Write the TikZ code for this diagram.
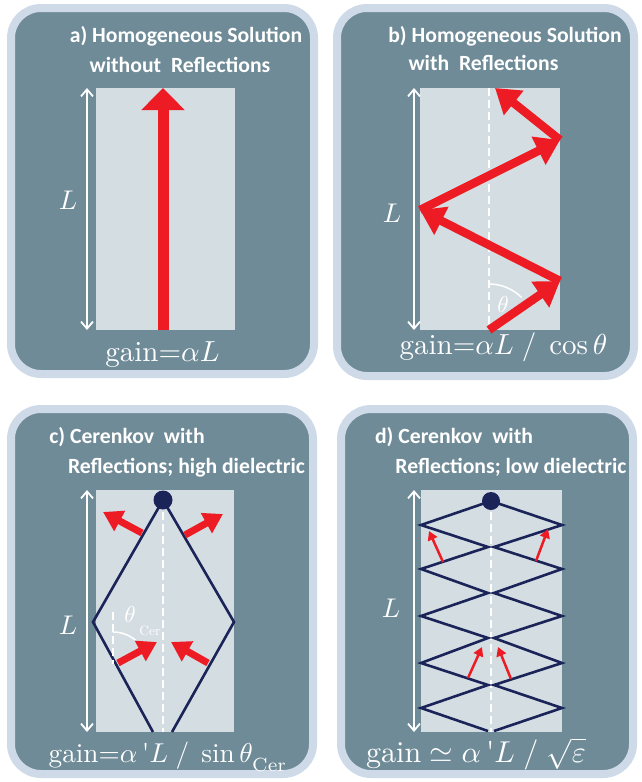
\documentclass[tikz,border=0pt]{standalone}
\usepackage{fontspec}
\newfontfamily\carl{Carlito}
\usetikzlibrary{arrows.meta}
\definecolor{bord}{HTML}{CFDAE8}
\definecolor{panel}{HTML}{6E8B97}
\definecolor{innerc}{HTML}{D4DDE2}
\definecolor{arrred}{HTML}{ED1C24}
\definecolor{navy}{HTML}{1B2459}
\begin{document}
\begin{tikzpicture}[x=1pt,y=-1pt,
  panelbox/.style={draw=bord,line width=8pt,fill=panel,rounded corners=30pt},
  innerbox/.style={fill=innerc},
  title/.style={text=white,font=\carl\bfseries\fontsize{21.7}{24}\selectfont,anchor=base,inner sep=0pt},
  mathlbl/.style={text=white,scale=2.9,anchor=base,inner sep=0pt},
  symlbl/.style={text=white,scale=2.7,inner sep=0pt},
  dimarrow/.style={white,line width=1.8pt,{Straight Barb[length=7pt,width=12pt]}-{Straight Barb[length=7pt,width=12pt]}},
  dashln/.style={white,line width=2pt,dash pattern=on 8pt off 4pt},
  redA/.style={draw=arrred,line width=11pt,-{Triangle[length=22pt,width=42pt]}},
  redB/.style={draw=arrred,line width=8.5pt,-{Triangle[length=24pt,width=30pt]}},
  redC/.style={draw=arrred,line width=7pt,-{Triangle[length=19pt,width=22pt]}},
  redD/.style={draw=arrred,line width=2.5pt,-{Triangle[length=9pt,width=10pt]}},
  navyln/.style={draw=navy,line width=2.6pt,line join=miter}]
\useasboundingbox (0,0) rectangle (641,782);

% ---------- panel a ----------
\draw[panelbox] (11,8) rectangle (314,374);
\fill[innerbox] (96,88) rectangle (235,330);
\node[title] (ta1) at (186,42) {a) Homogeneous Solution};
\node[title] (ta2) at (180,72) {without\ \ Reflections};
\coordinate (aT) at (87,88); \coordinate (aB) at (87,330);
\draw[dimarrow] (aT) -- (aB);
\node[symlbl] (aL) at (68,200) {$L$};
\coordinate (a0) at (163,330); \coordinate (a1) at (163,88);
\draw[redA] (a0) -- (a1);
\node[mathlbl] (ga) at (162.5,361) {$\mathrm{gain}{=}\alpha L$};

% ---------- panel b ----------
\draw[panelbox] (337,8) rectangle (634,376);
\fill[innerbox] (420,88) rectangle (560,330);
\node[title] (tb1) at (505,42) {b) Homogeneous Solution};
\node[title] (tb2) at (483.5,70) {with\ \ Reflections};
\coordinate (bT) at (414,88); \coordinate (bB) at (414,330);
\draw[dimarrow] (bT) -- (bB);
\node[symlbl] (bL) at (392,213) {$L$};
\coordinate (bd0) at (489,88); \coordinate (bd1) at (489,330);
\draw[dashln] (bd0) -- (bd1);
\draw[white,line width=1.5pt] (489,284) arc[start angle=90,end angle=45,radius=46pt];
\node[text=white,scale=2.3,inner sep=0pt] (bth) at (503,305) {$\theta$};
\coordinate (p0) at (489,330);
\coordinate (p1) at (560,281);
\coordinate (p2) at (420,210);
\coordinate (p3) at (560,140);
\coordinate (p4) at (495,88);
\draw[redB] (p0) -- (p1);
\draw[redB] (p1) -- (p2);
\draw[redB] (p2) -- (p3);
\draw[redB] (p3) -- (p4);
\node[mathlbl] (gb) at (503.5,354) {$\mathrm{gain}{=}\alpha L\;/\;\cos\theta$};

% ---------- panel c ----------
\draw[panelbox] (11,409) rectangle (313,774);
\fill[innerbox] (96,490) rectangle (234,732);
\node[title] (tc1) at (127,443) {c) Cerenkov\ \ with};
\node[title] (tc2) at (186.5,473) {Reflections; high dielectric};
\coordinate (cT) at (87,490); \coordinate (cB) at (87,732);
\draw[dimarrow] (cT) -- (cB);
\node[symlbl] (cL) at (68,625) {$L$};
\coordinate (cd0) at (163,500); \coordinate (cd1) at (163,732);
\draw[dashln] (cd0) -- (cd1);
\coordinate (q1) at (153,732);
\coordinate (q2) at (93,622);
\coordinate (q3) at (163,500);
\coordinate (q4) at (234,622);
\coordinate (q5) at (172,732);
\draw[navyln] (q1) -- (q2) -- (q3) -- (q4) -- (q5);
\fill[navy] (q3) circle[radius=9.5pt];
\coordinate (cs0) at (113,612); \coordinate (cs1) at (113,664);
\draw[dashln] (cs0) -- (cs1);
\draw[white,line width=1.5pt] (113,632) arc[start angle=90,end angle=50,radius=35pt];
\node[text=white,scale=2.3,inner sep=0pt] (cth) at (130,615) {$\theta$};
\node[text=white,scale=1.35,inner sep=0pt] (ccer) at (150,631) {Cer};
\coordinate (c1s) at (142,533); \coordinate (c1e) at (103,512);
\coordinate (c2s) at (185,535); \coordinate (c2e) at (223,514);
\coordinate (c3s) at (118,663); \coordinate (c3e) at (157,642);
\coordinate (c4s) at (208,663); \coordinate (c4e) at (171,642);
\draw[redC] (c1s) -- (c1e);
\draw[redC] (c2s) -- (c2e);
\draw[redC] (c3s) -- (c3e);
\draw[redC] (c4s) -- (c4e);
\node[mathlbl,scale=0.94] (gc) at (168,762) {$\mathrm{gain}{=}\alpha\,\mbox{\textquotesingle}L\;/\;\sin\theta_{\raisebox{-0.45ex}{$\scriptstyle\mathrm{Cer}$}}$};

% ---------- panel d ----------
\draw[panelbox] (341,409) rectangle (633,774);
\fill[innerbox] (421,490) rectangle (562,732);
\node[title] (td1) at (454,443) {d) Cerenkov\ \ with};
\node[title] (td2) at (511,473) {Reflections; low dielectric};
\coordinate (dT) at (414,490); \coordinate (dB) at (414,732);
\draw[dimarrow] (dT) -- (dB);
\node[symlbl] (dL) at (391,608) {$L$};
\coordinate (dd0) at (491,500); \coordinate (dd1) at (491,732);
\draw[dashln] (dd0) -- (dd1);
\coordinate (r0) at (491,501);
\draw[navyln] (r0) -- (421,525) -- (488,547) -- (421,569) -- (488,593) -- (421,616)
  -- (488,638) -- (421,663) -- (488,685) -- (421,708) -- (488,731);
\draw[navyln] (r0) -- (562,525) -- (494,547) -- (562,569) -- (494,593) -- (562,616)
  -- (494,638) -- (562,663) -- (494,685) -- (562,708) -- (494,731);
\fill[navy] (r0) circle[radius=9pt];
\coordinate (d1s) at (443,562); \coordinate (d1e) at (429,531);
\coordinate (d2s) at (536,561); \coordinate (d2e) at (548,529);
\coordinate (d3s) at (468,678); \coordinate (d3e) at (482,647);
\coordinate (d4s) at (511,679); \coordinate (d4e) at (498,647);
\draw[redD] (d1s) -- (d1e);
\draw[redD] (d2s) -- (d2e);
\draw[redD] (d3s) -- (d3e);
\draw[redD] (d4s) -- (d4e);
\node[mathlbl,scale=1.04] (gd) at (476,762) {$\mathrm{gain}\simeq\alpha\,\mbox{\textquotesingle}L\;/\;\sqrt{\varepsilon}$};
\end{tikzpicture}
\end{document}
